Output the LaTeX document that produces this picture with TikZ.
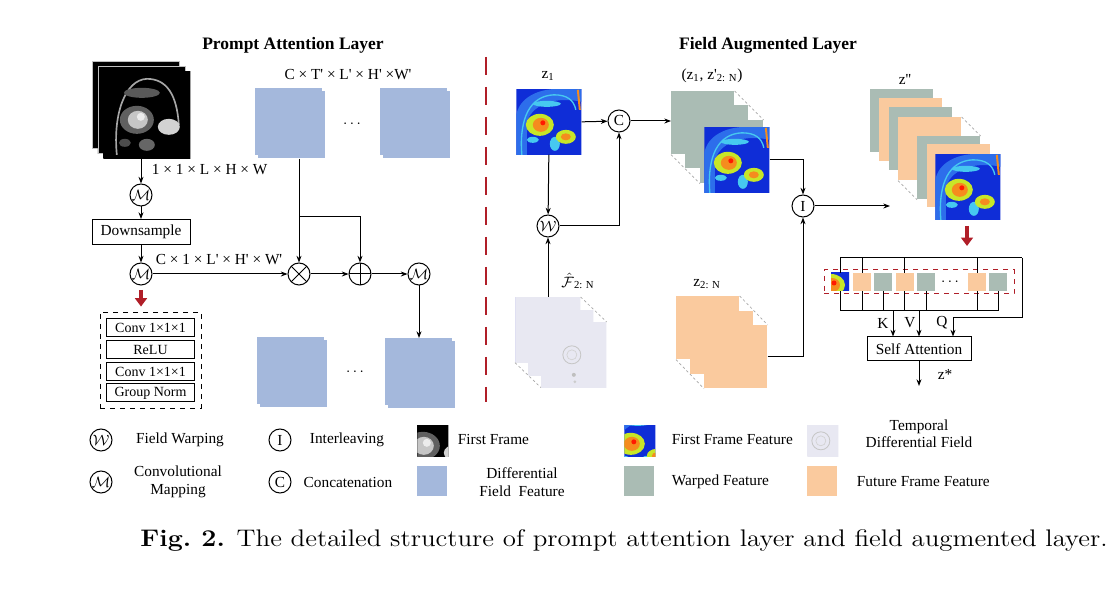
\documentclass[tikz,border=0pt]{standalone}
\usepackage{fontspec}
\newfontfamily\tnr{Liberation Serif}
\usetikzlibrary{arrows.meta}
\definecolor{pablue}{RGB}{164,184,220}
\definecolor{wgray}{RGB}{170,188,180}
\definecolor{fpeach}{RGB}{250,202,158}
\definecolor{divred}{RGB}{176,30,40}
\definecolor{tdfbg}{RGB}{232,232,242}
\definecolor{heatbg}{RGB}{15,45,215}
\definecolor{heatlt}{RGB}{45,110,235}
\definecolor{heatcy}{RGB}{70,200,240}
\definecolor{heatyel}{RGB}{200,230,40}
\definecolor{heatorg}{RGB}{245,140,30}
\newcommand{\heatart}[1]{%
  \begin{scope}[shift={(path picture bounding box.center)}, scale=#1]
    \fill[heatbg] (-40,-40) rectangle (40,40);
    \fill[heatlt] (-33,33) -- (-33,-5) .. controls (-30,-25) and (-10,-33) .. (10,-33) -- (33,-33) -- (33,-20) .. controls (10,-25) and (-15,-20) .. (-22,0) -- (-22,33) -- cycle;
    \draw[heatcy, line width=0.8pt] (-27,33) .. controls (-30,-5) and (-18,-26) .. (5,-27) .. controls (18,-27) and (25,-22) .. (27,-12);
    \fill[heatcy] (-2,-18) ellipse (14 and 3);
    \fill[heatcy] (6,22) ellipse (5 and 7);
    \fill[heatcy] (-16,18) ellipse (6 and 3);
    \fill[heatyel] (-9,3) ellipse (14 and 11);
    \fill[heatorg] (-8,3) ellipse (8 and 7);
    \fill[red!80!orange] (-6,1) circle (2.5);
    \fill[heatyel] (17,15) ellipse (10 and 7);
    \fill[heatorg] (17,15) ellipse (5 and 3.5);
    \draw[heatorg, line width=1.2pt] (29,-32) -- (31,-12);
  \end{scope}}
\newcommand{\mriart}[1]{%
  \begin{scope}[shift={(path picture bounding box.center)}, scale=#1]
    \fill[black] (-50,-50) rectangle (50,50);
    \draw[gray!70, line width=1pt] (-30,40) .. controls (-34,0) and (-22,-35) .. (0,-36) .. controls (20,-36) and (30,-20) .. (32,10);
    \fill[gray!70!black] (-5,-22) ellipse (18 and 5);
    \fill[gray!75!black] (-10,5) ellipse (17 and 14);
    \fill[gray!45] (-9,5) ellipse (10 and 9);
    \fill[gray!15] (-6,2) circle (4);
    \fill[gray!35] (22,12) ellipse (11 and 8);
    \fill[gray!80!black] (0,30) ellipse (8 and 6);
    \fill[gray!60!black] (-22,28) ellipse (6 and 4);
  \end{scope}}
\newcommand{\tdfart}[1]{%
  \begin{scope}[shift={(path picture bounding box.center)}, scale=#1]
    \fill[tdfbg] (-40,-40) rectangle (40,40);
    \draw[gray!45, line width=0.5pt] (-2,0) circle (9);
    \draw[gray!35, line width=0.4pt] (-2,0) circle (5);
    \fill[gray!50] (0,20) circle (2);
    \fill[gray!40] (1,27) circle (1.5);
  \end{scope}}
\begin{document}
\begin{tikzpicture}[x=0.6pt, y=-0.6pt, font=\tnr\fontsize{9.2}{10.5}\selectfont,
  >={Stealth[length=4pt,width=3pt]},
  op/.style={draw, circle, inner sep=0pt, minimum size=13.2pt, line width=0.6pt},
  box/.style={draw, rectangle, inner sep=0pt, line width=0.6pt},
  sheet/.style={rectangle, inner sep=0pt, anchor=north west, minimum size=37.8pt, fill=#1},
  cube/.style={rectangle, inner sep=0pt, anchor=north west, minimum size=40.2pt, fill=pablue},
  tok/.style={rectangle, inner sep=0pt, minimum size=10.8pt, fill=#1},
  heat/.style={rectangle, inner sep=0pt, anchor=north west, minimum size=#1*0.6pt, path picture={\heatart{#1/65}}},
  mri/.style={rectangle, inner sep=0pt, anchor=north west, minimum size=#1*0.6pt, fill=black, path picture={\mriart{#1/87}}},
  tdf/.style={rectangle, inner sep=0pt, anchor=north west, minimum size=#1*0.6pt, fill=tdfbg, path picture={\tdfart{#1/65}}},
  flow/.style={->, line width=0.6pt},
  link/.style={line width=0.6pt},
  depth/.style={gray!70, line width=0.4pt, dash pattern=on 1.5pt off 1.5pt},
  redarrow/.style={divred, line width=2.4pt, -{Triangle[length=5pt,width=7pt]}},
  mul/.style={op, path picture={\draw (path picture bounding box.north west) -- (path picture bounding box.south east) (path picture bounding box.north east) -- (path picture bounding box.south west);}},
  add/.style={op, path picture={\draw (path picture bounding box.north) -- (path picture bounding box.south) (path picture bounding box.west) -- (path picture bounding box.east);}},
  title/.style={font=\tnr\bfseries\fontsize{10.5}{12}\selectfont}]
\useasboundingbox (0,0) rectangle (1119,602);
\fill[white] (0,0) rectangle (1119,602);

\node[title] (tPA) at (293,45) {Prompt Attention Layer};
\node[title] (tFA) at (768,45) {Field Augmented Layer};
\draw[divred, line width=1.6pt, dash pattern=on 11pt off 7pt] (486,57) -- (486,402);

% prompt attention layer
\node[mri=87, draw=gray!50, line width=0.3pt] (mri3) at (92,61) {};
\node[mri=87, draw=gray!50, line width=0.3pt] (mri2) at (97.5,66) {};
\node[mri=87] (mri) at (103,71) {};
\node[anchor=west] (dimA) at (146,170) {1 × 1 × L × H × W};
\node[op] (m1) at (141,195) {$\mathcal{M}$};
\node[box, minimum width=58.8pt, minimum height=15pt] (down) at (141,232) {Downsample};
\node[op] (m2) at (141,274) {$\mathcal{M}$};
\node[anchor=west] (dimB) at (150,260) {C × 1 × L' × H' × W'};
\node[mul] (mul) at (299,274) {};
\node[add] (add) at (360,274) {};
\node[op] (m3) at (419,274) {$\mathcal{M}$};

\node[cube] (cubeAb) at (255,88) {};
\node[cube] (cubeA) at (258,91) {};
\node[cube] (cubeBb) at (380,88) {};
\node[cube] (cubeB) at (383,91) {};
\node (dotsA) at (352,124) {$\cdots$};
\node (dimC) at (348,75) {C × T' × L' × H' ×W'};
\node[cube] (cubeCb) at (257,337) {};
\node[cube] (cubeC) at (260,340) {};
\node[cube] (cubeDb) at (385,338) {};
\node[cube] (cubeD) at (388,341) {};
\node (dotsB) at (355,372) {$\cdots$};

\draw[flow] (mri.south -| m1) -- (m1);
\draw[flow] (m1) -- (down);
\draw[flow] (down) -- (m2);
\draw[flow] (m2) -- (mul);
\draw[flow] (mul) -- (add);
\draw[flow] (add) -- (m3);
\draw[flow] (cubeA.south -| mul) -- (mul);
\coordinate (br) at (299,217);
\draw[flow] (br) -| (add);
\draw[flow] (m3) -- (m3 |- cubeDb.north);

\node[draw, dashed, line width=0.5pt, minimum width=60.6pt, minimum height=57.6pt] (mlp) at (150.5,360) {};
\coordinate (ra) at (141,290);
\draw[redarrow, shorten >=3pt] (ra) -- (ra |- mlp.north);
\begin{scope}[every node/.style={box, minimum width=52.8pt, minimum height=10.8pt, font=\tnr\fontsize{8.4}{10}\selectfont}]
\node (conv1) at (150.5,328) {Conv 1×1×1};
\node (relu) at (150.5,350) {ReLU};
\node (conv2) at (150.5,372) {Conv 1×1×1};
\node (gnorm) at (150.5,393) {Group Norm};
\end{scope}

% field augmented layer
\node[heat=65] (z1) at (516,89) {};
\node (lz1) at (548,76) {z\textsubscript{1}};
\node[op] (cat) at (619,121) {C};
\node[op] (warp) at (548,226) {$\mathcal{W}$};
\node[tdf=65, fill=tdfbg!90!blue] (fh1) at (515,297) {};
\node[tdf=65] (fh2) at (528,310) {};
\node[tdf=65] (fh3) at (541,322) {};
\draw[depth] (fh1.north east) -- (fh3.north east);
\draw[depth] (fh1.south west) -- (fh3.south west);
\node (lfh) at (578,281) {$\hat{\mathcal{F}}$\textsubscript{2: N}};

\node[sheet=wgray] (gr1) at (671,91) {};
\node[sheet=wgray] (gr2) at (685,105) {};
\node[sheet=wgray] (gr3) at (700,120) {};
\node[heat=65] (zf) at (704,127) {};
\draw[depth] (gr1.north east) -- (gr3.north east);
\draw[depth] (gr1.south west) -- (gr3.south west);
\node (lzc) at (712,76) {(z\textsubscript{1}, z'\textsubscript{2: N})};

\node[sheet=fpeach] (or1) at (676,296) {};
\node[sheet=fpeach] (or2) at (690,311) {};
\node[sheet=fpeach] (or3) at (704,325) {};
\draw[depth] (or1.north east) -- (or3.north east);
\draw[depth] (or1.south west) -- (or3.south west);
\node (lz2) at (707,284) {z\textsubscript{2: N}};

\node[op] (inter) at (803,206) {I};
\draw[flow] (z1.east) -- (cat);
\draw[flow] (cat) -- (cat -| gr1.west);
\draw[flow] (z1.south) -- (warp);
\draw[flow] (fh1.north -| warp) -- (warp);
\draw[flow] (warp) -| (cat);
\draw[flow] (zf.east) -| (inter);
\draw[flow] (or3.east) -| (inter);
\coordinate (zin) at (890,206);
\draw[flow] (inter) -- (zin);

\node[sheet=wgray] (zs1) at (870,89) {};
\node[sheet=fpeach] (zs2) at (879,98) {};
\node[sheet=wgray] (zs3) at (889,107) {};
\node[sheet=fpeach] (zs4) at (898,117) {};
\node[sheet=wgray] (zs5) at (917,136) {};
\node[sheet=fpeach] (zs6) at (927,144) {};
\node[heat=65] (zs7) at (935,154) {};
\draw[depth] (zs4.north east) -- (zs5.north east);
\draw[depth] (zs4.south west) -- (zs5.south west);
\node (lzz) at (905,79) {z''};

\coordinate (rb) at (967,226);
\coordinate (rbe) at (967,246);
\draw[redarrow] (rb) -- (rbe);

\node[draw=divred, dashed, line width=0.6pt, minimum width=114pt, minimum height=14.4pt] (tokbox) at (919,282) {};
\node[heat=18, anchor=center] (t0) at (840,282) {};
\node[tok=fpeach] (t1) at (862,282) {};
\node[tok=wgray] (t2) at (883,282) {};
\node[tok=fpeach] (t3) at (904.5,282) {};
\node[tok=wgray] (t4) at (926,282) {};
\node (tdots) at (950,282) {$\cdots$};
\node[tok=fpeach] (t5) at (977,282) {};
\node[tok=wgray] (t6) at (998,282) {};

\node[box, minimum width=62.4pt, minimum height=14.4pt] (sa) at (919,349) {Self Attention};
\coordinate (qtop) at (1022,258);
\coordinate (qx) at (953,318);
\coordinate (kvl) at (841,311);
\coordinate (kvr) at (998,311);
\coordinate (kx) at (893,311);
\coordinate (vx) at (919,311);
\draw[link] (t0.north) |- (qtop);
\foreach \t in {t1,t3,t5} \draw[link] (\t.north) -- (\t.north |- qtop);
\draw[flow] (qtop) |- (qx) -- (qx |- sa.north);
\draw[link] (t0.south) |- (kvr) -- (t6.south);
\foreach \t in {t1,t2,t3,t4,t5} \draw[link] (\t.south) -- (\t.south |- kvl);
\draw[flow] (kx) -- (kx |- sa.north);
\draw[flow] (vx) -- (vx |- sa.north);
\node (lk) at (883,323) {K};
\node (lv) at (910,323) {V};
\node (lq) at (942,323) {Q};
\coordinate (zout) at (919,386);
\draw[flow] (sa) -- (zout);
\node (lzs) at (945,374) {z*};

% legend
\node[op] (lgW) at (101,440) {$\mathcal{W}$};
\node (lgWt) at (180,440) {Field Warping};
\node[op] (lgM) at (101,482) {$\mathcal{M}$};
\node[align=center] (lgMt) at (178,482) {Convolutional\\Mapping};
\node[op] (lgI) at (280,440) {I};
\node (lgIt) at (347,440) {Interleaving};
\node[op] (lgC) at (280,482) {C};
\node (lgCt) at (348,482) {Concatenation};
\node[mri=31] (lgF) at (417,425) {};
\node[anchor=west] (lgFt) at (452,440) {First Frame};
\node[sheet=pablue, minimum size=18pt] (lgD) at (417,466) {};
\node[align=center] (lgDt) at (522,482) {Differential\\Field\ \ Feature};
\node[heat=31] (lgFF) at (624,425) {};
\node[anchor=west] (lgFFt) at (666,440) {First Frame Feature};
\node[sheet=wgray, minimum size=18pt] (lgWF) at (624,466) {};
\node[anchor=west] (lgWFt) at (666,482) {Warped Feature};
\node[tdf=31] (lgT) at (807,425) {};
\node[align=center] (lgTt) at (919,434) {Temporal\\Differential Field};
\node[sheet=fpeach, minimum size=18pt] (lgO) at (807,466) {};
\node[anchor=west] (lgOt) at (851,482) {Future Frame Feature};

\node[font=\rmfamily\fontsize{14.4}{17}\selectfont] (cap) at (624,541) {\scalebox{1.12}[1]{\textbf{Fig.\ 2.} The detailed structure of prompt attention layer and field augmented layer.}};
\end{tikzpicture}
\end{document}
